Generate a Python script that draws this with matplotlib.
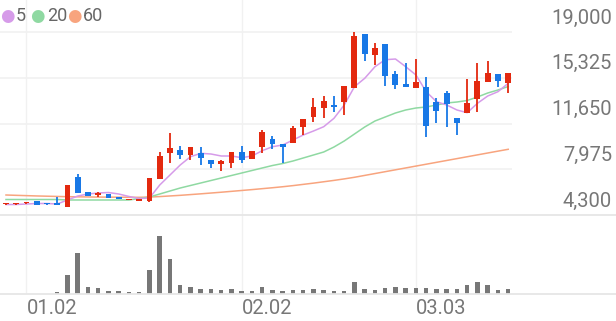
import numpy as np
import matplotlib
matplotlib.use('Agg')
import matplotlib.pyplot as plt
from matplotlib.lines import Line2D

plt.rcParams['font.family'] = ['Roboto', 'DejaVu Sans']

# daily candles (50 sessions)
opens = [5150, 5150, 5230, 5420, 5200, 5180, 4970, 7380, 6150, 5880,
         6000, 5770, 5500, 5430, 5430, 7190, 9300, 9500, 9100, 9280,
         8720, 8420, 8450, 9360, 8820, 9740, 10400, 10000, 10060, 11390,
         12200, 12920, 13140, 13400, 14530, 18820, 17150, 18040, 15600, 14850,
         14530, 14560, 13400, 14080, 12070, 12520, 13590, 14960, 15630, 14880]
highs = [5230, 5230, 5340, 5430, 5220, 5770, 6710, 7590, 6160, 6150,
         6010, 5780, 5610, 5610, 7250, 9360, 10910, 9840, 9790, 9740,
         8730, 8720, 9360, 9840, 9470, 11130, 10650, 10010, 11470, 12020,
         13720, 13860, 13880, 14660, 18980, 18830, 18090, 18050, 15870, 16550,
         16810, 15410, 13680, 14290, 12080, 15200, 16530, 16670, 15640, 15740]
lows = [5120, 5120, 5200, 5100, 5140, 5120, 4950, 6050, 5850, 5750,
        5700, 5560, 5490, 5420, 5320, 7190, 8500, 8800, 8720, 8320,
        8100, 7860, 8050, 8500, 8800, 9300, 9580, 8500, 10050, 10730,
        11800, 12070, 12550, 12330, 14520, 16700, 16350, 14660, 14400, 14560,
        14520, 10540, 11720, 11390, 10730, 12510, 12600, 14950, 14610, 14080]
closes = [5200, 5200, 5330, 5100, 5150, 5140, 6710, 6090, 5850, 6070,
          5700, 5560, 5610, 5610, 7250, 9040, 9680, 9100, 9790, 8860,
          8400, 8640, 9360, 8720, 9470, 10990, 10000, 9790, 11310, 12010,
          13000, 13480, 12980, 14660, 18700, 17210, 17740, 15490, 14740, 14580,
          15010, 11450, 12650, 13190, 11720, 13320, 15060, 15730, 15060, 15730]
volumes = [0, 0, 0, 0, 0, 2, 19, 40.7, 6.7, 5.7,
           3, 2.7, 2.3, 2.3, 24, 58.3, 34.7, 9, 6.7, 5.3,
           5.3, 3.7, 4.7, 3, 2.7, 7.3, 4, 3, 4.3, 4.5,
           5, 4, 2.7, 3.3, 12.3, 5, 4, 5.7, 6.7, 6,
           6, 6, 5.3, 4.7, 5, 8.7, 12, 9, 4, 5]

ma5 = [5143, 5143, 5184, 5224, 5224, 5184, 5505, 5826, 5987, 6067,
       6107, 5987, 5786, 5625, 5666, 6710, 7513, 8317, 8983, 9256,
       9200, 9040, 9040, 8903, 9040, 9465, 9787, 9923, 10325, 10726,
       11047, 11393, 12068, 13136, 14606, 15281, 16213, 16775, 16831, 16213,
       15546, 14205, 13402, 13136, 12735, 12518, 13273, 13859, 14205, 14880]
ma20 = [5545, 5545, 5545, 5545, 5545, 5545, 5505, 5505, 5505, 5505,
        5505, 5505, 5505, 5625, 5746, 5987, 6228, 6469, 6670, 6871,
        7071, 7272, 7473, 7674, 7875, 8076, 8276, 8437, 8638, 8879,
        9120, 9361, 9762, 10244, 10807, 11369, 11851, 12172, 12494, 12735,
        12895, 12976, 13136, 13297, 13377, 13498, 13779, 14100, 14341, 14622]
ma60 = [5907, 5880, 5855, 5830, 5810, 5790, 5770, 5760, 5750, 5740,
        5735, 5730, 5725, 5720, 5740, 5780, 5830, 5880, 5940, 6000,
        6065, 6130, 6200, 6270, 6340, 6415, 6490, 6570, 6660, 6760,
        6860, 6970, 7080, 7200, 7330, 7480, 7630, 7780, 7930, 8080,
        8230, 8380, 8530, 8680, 8830, 8980, 9130, 9280, 9430, 9578]

price_ticks = [4300, 7975, 11650, 15325, 19000]
date_idx = [2, 23, 40]
date_labels = ['01.02', '02.02', '03.03']

RED = '#e3290f'
BLUE = '#1878e6'
C5, C20, C60 = '#d69be9', '#8fd9a2', '#f8a47e'
GRID = '#f1f1f1'
TXT = '#777777'

W, H = 616, 321
fig = plt.figure(figsize=(W / 100, H / 100), dpi=100)

ax = fig.add_axes([0, (H - 215) / H, 512 / W, 215 / H])
axv = fig.add_axes([0, (H - 294) / H, 512 / W, 79 / H])

x = np.arange(len(opens))
o = np.array(opens); c = np.array(closes)
up = c >= o
cols = np.where(up, RED, BLUE)
body_lo = np.minimum(o, c)
body_h = np.maximum(np.abs(c - o), 110)

for a in (ax, axv):
    for i in date_idx:
        a.axvline(i, color=GRID, lw=1, zorder=0)
    a.set_xlim(-0.585, 49.37)
    for s in a.spines.values():
        s.set_visible(False)
    a.set_xticks([])
    a.set_yticks([])

for p in price_ticks[1:]:
    ax.axhline(p, color=GRID, lw=1.2, zorder=0)

ax.plot(x, ma60, color=C60, lw=1.1, zorder=2)
ax.plot(x, ma20, color=C20, lw=1.1, zorder=2)
ax.plot(x, ma5, color=C5, lw=1.1, zorder=2)

ax.vlines(x, lows, highs, colors=cols, lw=1.3, zorder=3)
ax.bar(x, body_h, bottom=body_lo, width=0.58, color=cols, zorder=4)
ax.set_ylim(4300, 21571)

for p in price_ticks:
    ax.annotate(f'{p:,}', xy=(1, p), xycoords=('axes fraction', 'data'),
                xytext=(100, 14), textcoords='offset pixels',
                ha='right', va='center', fontsize=14.5, color=TXT,
                annotation_clip=False)

axv.bar(x, volumes, width=0.44, color='#777777', zorder=2)
axv.set_ylim(0, 79)

for i, lab in zip(date_idx, date_labels):
    axv.annotate(lab, xy=(i, 0), xycoords='data', xytext=(0, -15),
                 textcoords='offset pixels', ha='left', va='center',
                 fontsize=14.5, color=TXT, annotation_clip=False)

# full-width baselines
for yy in (215, 294):
    fig.add_artist(Line2D([0, 1], [(H - yy) / H] * 2, color='#e6e6e6', lw=1.3))

# legend
leg_y = 1 - 15.7 / H
for cx, tx, col, lab in [(7, 16, C5, '5'), (37, 47, C20, '20'), (74, 83, C60, '60')]:
    fig.text(cx / W, leg_y, '\u25cf', color=col, fontsize=12, ha='center', va='center',
             family=['DejaVu Sans'])
    fig.text(tx / W, leg_y, lab, color='#666666', fontsize=13, ha='left', va='center')

fig.savefig('out.png', dpi=100)
